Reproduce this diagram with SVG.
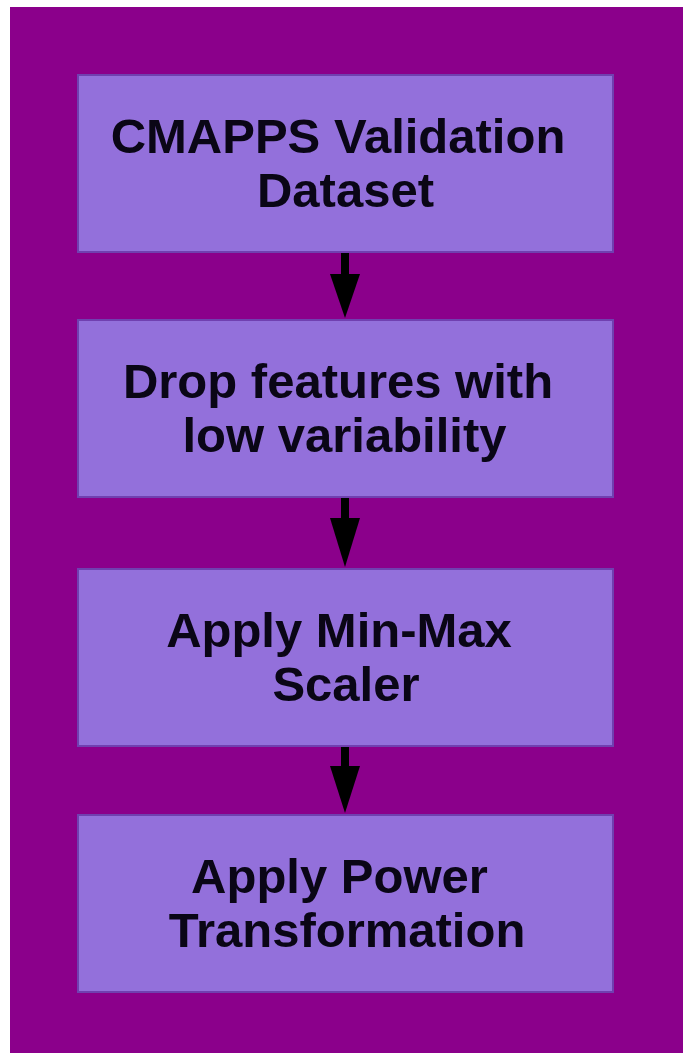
<svg xmlns="http://www.w3.org/2000/svg" width="683" height="1053" viewBox="0 0 683 1053">
<defs>
<style>
.node rect{fill:#9370DB;stroke:#7040B0;stroke-width:2}
.node text{font-family:"Liberation Sans",Arial,sans-serif;font-weight:bold;font-size:49px;fill:#0a0616;text-anchor:middle}
.conn line{stroke:#000;stroke-width:8}
.conn polygon{fill:#000}
</style>
</defs>
<rect x="0" y="0" width="683" height="1053" fill="#ffffff"/>
<rect x="10" y="7" width="673" height="1046" fill="#8B008B"/>
<g id="node1" class="node">
<rect x="78" y="75" width="535" height="177"/>
<text x="338" y="153">CMAPPS Validation</text>
<text x="345.5" y="207">Dataset</text>
</g>
<g id="node2" class="node">
<rect x="78" y="320" width="535" height="177"/>
<text x="338" y="398">Drop features with</text>
<text x="344.5" y="452">low variability</text>
</g>
<g id="node3" class="node">
<rect x="78" y="569" width="535" height="177"/>
<text x="339" y="647">Apply Min-Max</text>
<text x="346" y="701">Scaler</text>
</g>
<g id="node4" class="node">
<rect x="78" y="815" width="535" height="177"/>
<text x="339.5" y="893">Apply Power</text>
<text x="347" y="947">Transformation</text>
</g>
<g id="connectors" class="conn">
<line x1="345" y1="253" x2="345" y2="276"/>
<polygon points="330,274 360,274 345,318"/>
<line x1="345" y1="498" x2="345" y2="520"/>
<polygon points="330,518 360,518 345,567"/>
<line x1="345" y1="747" x2="345" y2="768"/>
<polygon points="330,766 360,766 345,813"/>
</g>
</svg>
